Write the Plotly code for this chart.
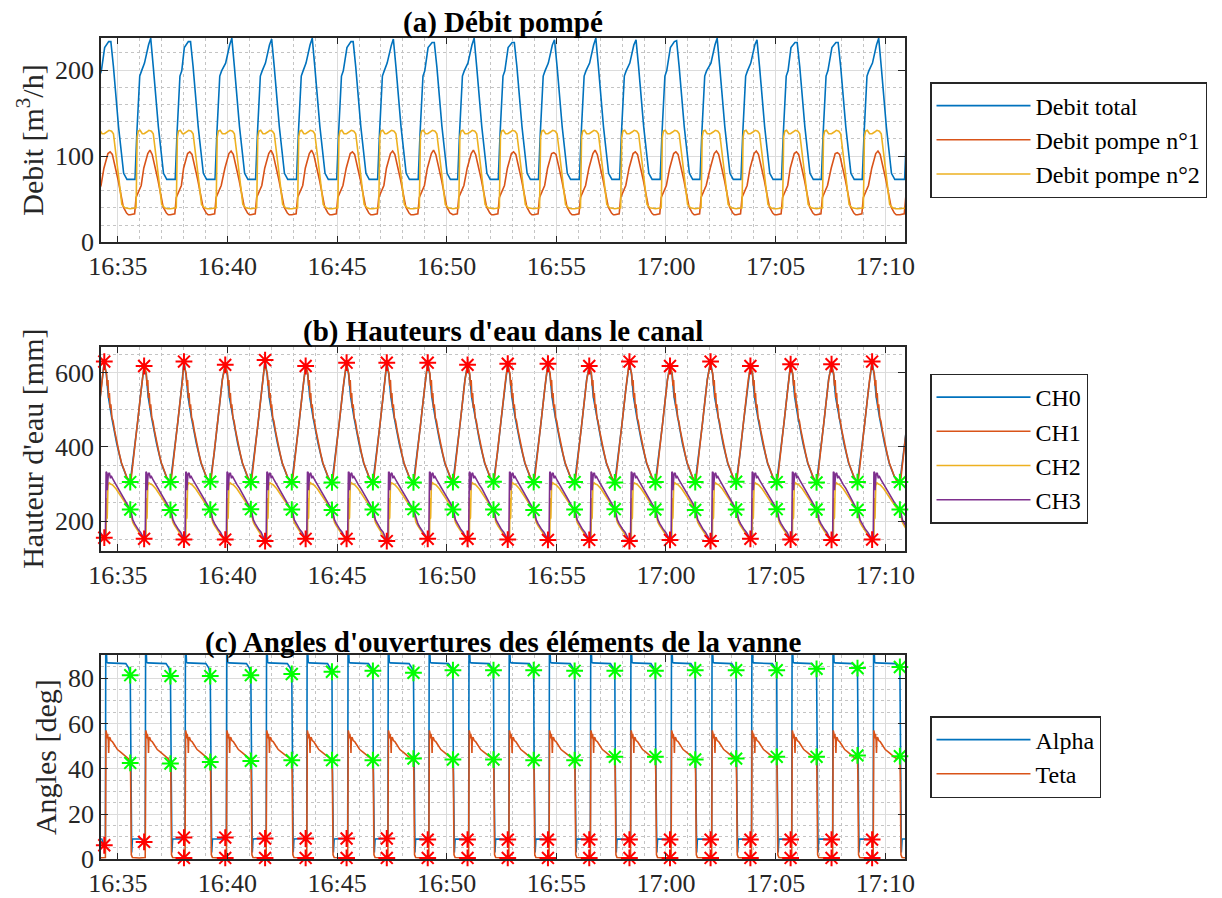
import pandas as pd
import plotly.graph_objects as go

BASE = pd.Timestamp("2000-01-01 16:34:00")
X_START_S, X_END_S = 14, 2214          # visible time window (s after 16:34:00)

# ---------------- cycle events (s after 16:34:00) ----------------
# t_close: gate closes (green stars) ; t_open: gate opens (just after red stars)
t_close = [-16, 94, 204, 313, 424, 536, 646, 758, 869, 977, 1088,
           1198, 1310, 1420, 1531, 1640, 1752, 1863, 1972, 2084, 2200]
t_open = [27, 136, 245, 358, 467, 578, 690, 800, 912, 1021,
          1131, 1241, 1354, 1464, 1575, 1686, 1795, 1905, 2017, 2128]

# ---------------- (a) Débit pompé : per-cycle readings ----------------
q_tot_pre = [226, 208, 226, 208, 208, 208, 226, 208, 226, 208, 226, 208, 208, 208, 226, 208, 208, 226, 226, 208]
q_tot_sh = [233, 229, 233, 229, 229, 229, 233, 228, 232, 229, 232, 229, 229, 229, 233, 229, 229, 232, 232, 229]
q_tot_pk = [233, 237, 233, 237, 236, 237, 233, 236, 232, 237, 232, 235, 237, 235, 234, 237, 235, 232, 232, 237]
q_p1_pk = [105, 107, 105, 106, 107, 107, 105, 106, 107, 107, 105, 104, 107, 105, 105, 106, 106, 105, 104, 106]

# waveform readings of one cycle: (offset s, value) after opening / after closing
q_tot_open = [(-3, "pre"), (8, "sh"), (14, "pk"), (21, 204), (35, 134), (49, 80), (58, 73)]
q_tot_close = [(0, 73), (13, 73), (18, 126), (26, 193), (31, 199)]
q_p1_open = [(-5, 86), (6, 103), (12, "pk1"), (18, 102), (34, 72), (48, 41), (57, 34), (62, 32)]
q_p1_close = [(0, 32), (12, 33), (16, 52), (24, 60), (30, 66)]
q_p2_open = [(-4, 126), (3, 128), (9, 130), (16, 129), (21, 126), (33, 84), (44, 44), (52, 40), (60, 39)]
q_p2_close = [(0, 39), (16, 40), (19, 122), (22, 129), (27, 130), (33, 126)]

# ---------------- (b) Hauteurs d'eau : per-cycle readings ----------------
h_peak = [630, 618, 630, 621, 634, 618, 627, 627, 627, 621, 624, 624, 618, 630, 618, 630, 618, 623, 623, 630]
h_low = [155, 152, 150, 150, 146, 152, 152, 146, 152, 152, 150, 149, 149, 146, 149, 146, 152, 150, 149, 150]
h_trough = [305, 305, 305, 306, 305, 305, 304, 305, 304, 305, 306, 305, 305, 304, 305, 305, 306, 305, 304, 305, 305]
h_mid = [231, 231, 230, 231, 232, 231, 230, 231, 232, 231, 231, 230, 231, 232, 231, 230, 231, 232, 231, 230, 231]

ch0_open = [(-4, "P"), (2, 592), (7, 535), (16, 481), (30, 409), (43, 355), (57, 319)]
ch0_close = [(0, "T"), (11, 385), (20, 465), (29, 546), (33, 582)]
ch1_open = [(-4, "P"), (-2, 612), (0, 600), (2, 598), (4, 565), (6, 580), (8, 532), (10, 545), (12, 505),
            (14, 515), (17, 478), (20, 470), (24, 445), (30, 412), (37, 382), (43, 357), (50, 336), (57, 320), (62, 310)]
ch1_close = [(0, "T"), (3, 318), (11, 383), (16, 425), (20, 462), (25, 505), (29, 545), (33, 580)]
ch2_open = [(-4, "L"), (1, 152), (2, 262), (3, 205), (4, 210), (6, 296), (9, 303), (13, 300), (18, 298),
            (28, 287), (35, 277), (44, 263), (53, 249), (60, 239)]
ch2_close = [(0, 226), (3, 214), (7, 196), (12, 187), (17, 179), (22, 171), (28, 164), (33, 156)]
ch3_open = [(-4, "L"), (-1, 153), (0, 250), (1, 333), (3, 330), (4, 283), (5, 300), (7, 326), (10, 330),
            (13, 315), (15, 322), (21, 310), (28, 298), (35, 288), (44, 271), (53, 256), (60, 245)]
ch3_close = [(0, "G"), (3, 222), (7, 203), (12, 193), (17, 184), (22, 177), (28, 170), (33, 160)]

# ---------------- (c) Angles : per-cycle readings ----------------
alpha_hi = [82, 81.4, 81, 81, 81.4, 81.9, 82.9, 83.3, 82.4, 83.6, 83.6, 83.6, 83.3, 83.3, 83.3, 83.6, 83.6, 83.6, 84.2, 84.5, 85]
teta_hi = [43, 42.6, 42.3, 43, 43.5, 43.8, 43.8, 43.8, 44.5, 44.1, 44.1, 43.8, 43.8, 45.3, 45.3, 44.1, 44.5, 45.3, 45.3, 45.9, 45.6]
alpha_lo = [6.2, 7.7, 9.6, 9.6, 9.2, 9.2, 9.2, 9.2, 8.7, 8.7, 8.7, 8.7, 8.7, 8.7, 8.7, 8.7, 8.7, 8.7, 8.7, 8.7]
teta_lo = [None, None, 0.6, 0.6, 0.6, 0.6, 0.6, 0.6, 0.6, 0.6, 0.6, 0.6, 0.6, 0.6, 0.6, 0.6, 0.6, 0.6, 0.6, 0.6]

alpha_open = [(-4, "Alo"), (-1, "Alo"), (0, 91), (2, 91), (3, 87), (6, 86.8)]
alpha_close = [(-12, 86.5), (-8, 85.5), (-4, 84.5), (0, "Ahi"), (1, 45), (2, 3), (4, 3), (6, 9), (20, 9), (32, 9)]
teta_open = [(-4, 0.6), (-1, 0.8), (0.5, 57), (2, 56), (3, 53.5), (5, 55.5), (7, 52.5), (8, 47), (9, 53.5),
             (11, 54), (14, 52.5), (18, 52), (24, 50.5), (32, 48.5), (40, 47.5), (48, 46.5), (56, 45.5), (62, 44.5)]
teta_close = [(0, "Thi"), (1, 38), (3, 2), (6, 0.8), (25, 0.6)]

STAR_SHIFT = -4   # red stars sit just before the opening

per_cycle = {"pre": q_tot_pre, "sh": q_tot_sh, "pk": q_tot_pk, "pk1": q_p1_pk,
             "P": h_peak, "L": h_low, "T": h_trough, "G": h_mid,
             "Ahi": alpha_hi, "Thi": teta_hi, "Alo": alpha_lo}


def build(open_prof, close_prof):
    pts = []
    for k, tc in enumerate(t_close):
        for off, v in close_prof:
            pts.append((tc + off, per_cycle[v][k] if isinstance(v, str) else v))
    for k, to in enumerate(t_open):
        for off, v in open_prof:
            pts.append((to + off, per_cycle[v][k] if isinstance(v, str) else v))
    pts.sort(key=lambda p: p[0])
    return [p[0] for p in pts], [p[1] for p in pts]


def at(ts):
    return [BASE + pd.Timedelta(seconds=float(s)) for s in ts]


C_BLUE, C_ORANGE, C_YELLOW, C_PURPLE = "#0072BD", "#D95319", "#EDB120", "#7E2F8E"
FONT = "Liberation Serif"
AX = "#262626"

fig = go.Figure()


def add_line(prof, name, color, xa, ya, legend):
    t, y = build(*prof)
    fig.add_trace(go.Scatter(x=at(t), y=y, mode="lines", name=name,
                             line=dict(color=color, width=1.6),
                             xaxis=xa, yaxis=ya, legend=legend))


def add_stars(t, y, color, xa, ya):
    pairs = [(a, b) for a, b in zip(t, y) if b is not None]
    fig.add_trace(go.Scatter(x=at([p[0] for p in pairs]), y=[p[1] for p in pairs], mode="markers",
                             showlegend=False, cliponaxis=False,
                             marker=dict(symbol="asterisk-open", size=14, color=color,
                                         line=dict(color=color, width=2)),
                             xaxis=xa, yaxis=ya))


# (a)
add_line((q_tot_open, q_tot_close), "Debit total", C_BLUE, "x", "y", "legend")
add_line((q_p1_open, q_p1_close), "Debit pompe n°1", C_ORANGE, "x", "y", "legend")
add_line((q_p2_open, q_p2_close), "Debit pompe n°2", C_YELLOW, "x", "y", "legend")

# (b)
add_line((ch0_open, ch0_close), "CH0", C_BLUE, "x2", "y2", "legend2")
add_line((ch1_open, ch1_close), "CH1", C_ORANGE, "x2", "y2", "legend2")
add_line((ch2_open, ch2_close), "CH2", C_YELLOW, "x2", "y2", "legend2")
add_line((ch3_open, ch3_close), "CH3", C_PURPLE, "x2", "y2", "legend2")
t_red = [t + STAR_SHIFT for t in t_open]
add_stars(t_red, h_peak, "#FF0000", "x2", "y2")
add_stars(t_red, h_low, "#FF0000", "x2", "y2")
add_stars(t_close[1:], h_trough[1:], "#00FF00", "x2", "y2")
add_stars(t_close[1:], h_mid[1:], "#00FF00", "x2", "y2")

# (c)
add_line((alpha_open, alpha_close), "Alpha", C_BLUE, "x3", "y3", "legend3")
add_line((teta_open, teta_close), "Teta", C_ORANGE, "x3", "y3", "legend3")
add_stars(t_red, alpha_lo, "#FF0000", "x3", "y3")
add_stars(t_red, teta_lo, "#FF0000", "x3", "y3")
add_stars(t_close[1:], alpha_hi[1:], "#00FF00", "x3", "y3")
add_stars(t_close[1:], teta_hi[1:], "#00FF00", "x3", "y3")

W, H = 1222, 898


def px_x(x):
    return x / W


def px_y(y):
    return 1 - y / H


xdom = [px_x(101), px_x(905)]
doms = {"a": [px_y(242.3), px_y(37.7)], "b": [px_y(550.7), px_y(346.7)], "c": [px_y(859.3), px_y(655)]}
xrange_ = [str(BASE + pd.Timedelta(seconds=X_START_S)), str(BASE + pd.Timedelta(seconds=X_END_S))]


def xaxis(anchor):
    return dict(domain=xdom, anchor=anchor, type="date", range=xrange_, tickformat="%H:%M",
                dtick=300000, tick0="2000-01-01 16:35:00", ticks="inside", ticklen=7, tickwidth=1,
                tickcolor=AX, showline=True, linecolor=AX, linewidth=1.5, mirror="ticks",
                showgrid=True, gridcolor="#dcdcdc", gridwidth=1, zeroline=False, automargin=False,
                tickfont=dict(family=FONT, size=26, color=AX),
                minor=dict(dtick=60000, showgrid=True, gridcolor="#c4c4c4", griddash="dot", gridwidth=1))


def yaxis(anchor, dom, rng, dtick, mdtick, title):
    return dict(domain=dom, anchor=anchor, range=rng, dtick=dtick, tick0=0, ticks="inside", ticklen=7,
                tickwidth=1, tickcolor=AX, showline=True, linecolor=AX, linewidth=1.5, mirror="ticks",
                showgrid=True, gridcolor="#dcdcdc", gridwidth=1, zeroline=False, automargin=False,
                tickfont=dict(family=FONT, size=26, color=AX),
                title=dict(text=title, font=dict(family=FONT, size=30, color=AX), standoff=3),
                minor=dict(dtick=mdtick, showgrid=True, gridcolor="#c4c4c4", griddash="dot", gridwidth=1))


def legend(center_px):
    return dict(x=px_x(930), y=px_y(center_px), xanchor="left", yanchor="middle", bgcolor="white",
                bordercolor=AX, borderwidth=1.5, font=dict(family=FONT, size=24, color="black"),
                itemwidth=94, tracegroupgap=0)


fig.update_layout(
    width=W, height=H, margin=dict(l=0, r=0, t=0, b=0, autoexpand=False), autosize=False,
    paper_bgcolor="white", plot_bgcolor="white",
    font=dict(family=FONT, size=26, color=AX),
    xaxis=xaxis("y"), xaxis2=xaxis("y2"), xaxis3=xaxis("y3"),
    yaxis=yaxis("x", doms["a"], [0, 237.5], 100, 20, "Debit [m<sup>3</sup>/h]"),
    yaxis2=yaxis("x2", doms["b"], [120, 670], 200, 50, "Hauteur d'eau [mm]"),
    yaxis3=yaxis("x3", doms["c"], [0, 90.3], 20, 5, "Angles [deg]"),
    legend=legend(140), legend2=legend(448.5), legend3=legend(757),
    annotations=[
        dict(text="<b>(a) Débit pompé</b>", x=px_x(503), y=px_y(23)),
        dict(text="<b>(b) Hauteurs d'eau dans le canal</b>", x=px_x(503), y=px_y(331)),
        dict(text="<b>(c) Angles d'ouvertures des éléments de la vanne</b>", x=px_x(503), y=px_y(642)),
    ],
)
for a in fig.layout.annotations:
    a.update(xref="paper", yref="paper", xanchor="center", yanchor="middle", showarrow=False,
             font=dict(family=FONT, size=29, color="black"))

fig.write_html("out.html", config={"displayModeBar": False},
               post_script="document.body.style.margin='0';document.body.style.overflow='hidden';")
